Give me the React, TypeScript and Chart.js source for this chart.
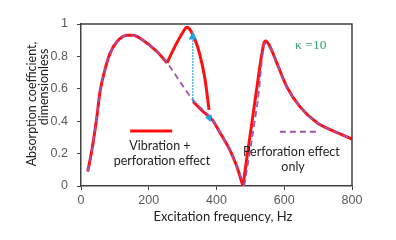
import React, { useEffect, useRef } from "react";
import { Chart, registerables } from "chart.js";

Chart.register(...registerables);

// Red curve (vibration + perforation), pieces
const redAX = [20, 32, 47, 56, 71, 86, 106, 136, 153, 183, 224, 254];
const redAY = [0.09, 0.22, 0.43, 0.58, 0.72, 0.82, 0.89, 0.93, 0.93, 0.9, 0.83, 0.76];
const redBX = [254, 277, 298, 313, 337, 351, 366, 378];
const redBY = [0.76, 0.86, 0.94, 0.98, 0.9, 0.81, 0.66, 0.47];
const redCX = [331, 360, 387, 410, 440, 460, 478];
const redCY = [0.52, 0.46, 0.41, 0.33, 0.22, 0.12, 0.0];
const redDX = [478, 514, 540, 545, 558, 578, 608, 646, 697, 756, 800];
const redDY = [0.0, 0.53, 0.88, 0.895, 0.86, 0.76, 0.61, 0.49, 0.39, 0.33, 0.29];

// Purple dashed curve (perforation only)
const purpAX = [20, 32, 47, 56, 71, 86, 106, 136, 153, 183, 224, 254, 300, 331, 387, 410, 440, 460, 482];
const purpAY = [0.09, 0.22, 0.43, 0.58, 0.72, 0.82, 0.89, 0.93, 0.93, 0.9, 0.83, 0.76, 0.62, 0.53, 0.41, 0.33, 0.22, 0.12, 0.0];
const purpBX = [482, 522, 543, 558, 578, 608, 646, 697, 756, 800];
const purpBY = [0.0, 0.53, 0.88, 0.86, 0.76, 0.61, 0.49, 0.39, 0.33, 0.29];

// Cyan arrow
const cyanX = [330, 330];
const cyanY = [0.52, 0.92];
const cyanTipX = [378];
const cyanTipY = [0.42];

// Legend glyphs inside plot
const legRedX = [145, 269];
const legRedY = [0.34, 0.34];
const legPurpX = [587, 700];
const legPurpY = [0.335, 0.335];

const xTicks = [0, 200, 400, 600, 800];
const yTicks = [0, 0.2, 0.4, 0.6, 0.8, 1];
const yTickLabels = ["0", "0.2", "0.4", "0.6", "0.8", "1"];

const RED = "#ff1010";
const PURPLE = "#a052ae";
const CYAN = "#1aa6e0";

const pts = (xs: number[], ys: number[]) => xs.map((x, i) => ({ x, y: ys[i] }));

export default function App() {
  const ref = useRef<HTMLCanvasElement>(null);
  useEffect(() => {
    document.body.style.margin = "0";
    const ctx = ref.current!;
    const red = (xs: number[], ys: number[]) => ({
      data: pts(xs, ys),
      borderColor: RED,
      borderWidth: 3,
      pointRadius: 0,
      showLine: true,
      cubicInterpolationMode: "monotone" as const,
      order: 3,
    });
    const purp = (xs: number[], ys: number[]) => ({
      data: pts(xs, ys),
      borderColor: PURPLE,
      borderWidth: 1.8,
      borderDash: [6, 4],
      pointRadius: 0,
      showLine: true,
      cubicInterpolationMode: "monotone" as const,
      order: 2,
    });
    const textPlugin = {
      id: "texts",
      afterDraw(chart: any) {
        const c = chart.ctx;
        const xs = chart.scales.x;
        const ys = chart.scales.y;
        const ca = chart.chartArea;
        c.save();
        // frame top & right
        c.strokeStyle = "#404040";
        c.lineWidth = 1.5;
        c.beginPath();
        c.moveTo(ca.left, ca.top);
        c.lineTo(ca.right, ca.top);
        c.lineTo(ca.right, ca.bottom);
        c.stroke();
        c.fillStyle = "#222";
        c.textAlign = "center";
        c.textBaseline = "middle";
        c.font = "12.5px Lato";
        c.fillText("Vibration +", xs.getPixelForValue(233), ys.getPixelForValue(0.25));
        c.fillText("perforation effect", xs.getPixelForValue(239), ys.getPixelForValue(0.155));
        c.fillText("Perforation effect", xs.getPixelForValue(621), ys.getPixelForValue(0.21));
        c.fillText("only", xs.getPixelForValue(626), ys.getPixelForValue(0.12));
        c.fillStyle = "#2fa36b";
        c.textAlign = "left";
        c.font = "13.5px 'Liberation Serif'";
        c.fillText("\u03ba =10", xs.getPixelForValue(632), ys.getPixelForValue(0.865));
        // axis titles
        c.fillStyle = "#222";
        c.textAlign = "center";
        c.font = "13px Lato";
        c.fillText("Excitation frequency, Hz", 223, 217);
        c.font = "12.5px Lato";
        c.translate(32, 104);
        c.rotate(-Math.PI / 2);
        c.fillText("Absorption coefficient,", 0, 0);
        c.fillText("dimensionless", 17, 12);
        c.restore();
      },
    };
    const chart = new Chart(ctx, {
      type: "scatter",
      data: {
        datasets: [
          {
            data: pts(cyanX, cyanY),
            borderColor: CYAN,
            backgroundColor: CYAN,
            borderWidth: 1.5,
            borderDash: [1.5, 1.5],
            showLine: true,
            pointStyle: "triangle",
            pointRadius: [0, 3.5],
            order: 0,
          } as any,
          {
            data: pts(cyanTipX, cyanTipY),
            borderColor: CYAN,
            backgroundColor: CYAN,
            pointStyle: "triangle",
            rotation: 160,
            pointRadius: 3.5,
            order: 0,
          },
          purp(purpAX, purpAY),
          purp(purpBX, purpBY),
          purp(legPurpX, legPurpY),
          red(redAX, redAY),
          red(redBX, redBY),
          red(redCX, redCY),
          red(redDX, redDY),
          red(legRedX, legRedY),
        ] as any,
      },
      options: {
        responsive: false,
        animation: false,
        events: [],
        layout: { padding: { left: 0, right: 44, top: 24, bottom: 0 } },
        plugins: { legend: { display: false }, tooltip: { enabled: false } },
        scales: {
          x: {
            type: "linear",
            min: 0,
            max: 800,
            afterBuildTicks: (s: any) => {
              s.ticks = xTicks.map((v) => ({ value: v }));
            },
            afterFit: (s: any) => {
              s.height = 54;
            },
            ticks: {
              color: "#595959",
              font: { family: "Liberation Sans", size: 12.5 },
              padding: 3,
              maxRotation: 0,
              callback: (v: any) => String(v),
            },
            grid: { drawOnChartArea: false, drawTicks: true, tickLength: 4, color: "#404040" },
            border: { display: true, color: "#404040", width: 1.5 },
          },
          y: {
            type: "linear",
            min: 0,
            max: 1,
            afterBuildTicks: (s: any) => {
              s.ticks = yTicks.map((v) => ({ value: v }));
            },
            afterFit: (s: any) => {
              s.width = 81;
            },
            ticks: {
              color: "#595959",
              font: { family: "Liberation Sans", size: 12.5 },
              padding: 9,
              callback: (v: any) => {
                const i = yTicks.findIndex((t) => Math.abs(t - Number(v)) < 1e-9);
                return i >= 0 ? yTickLabels[i] : String(v);
              },
            },
            grid: { drawOnChartArea: false, drawTicks: true, tickLength: 4, color: "#404040" },
            border: { display: true, color: "#404040", width: 1.5 },
          },
        },
      },
      plugins: [textPlugin],
    });
    return () => chart.destroy();
  }, []);
  return (
    <div style={{ position: "fixed", left: 0, top: 0, width: 396, height: 240, background: "#fff" }}>
      <canvas ref={ref} width={396} height={240} style={{ width: 396, height: 240 }} />
    </div>
  );
}
